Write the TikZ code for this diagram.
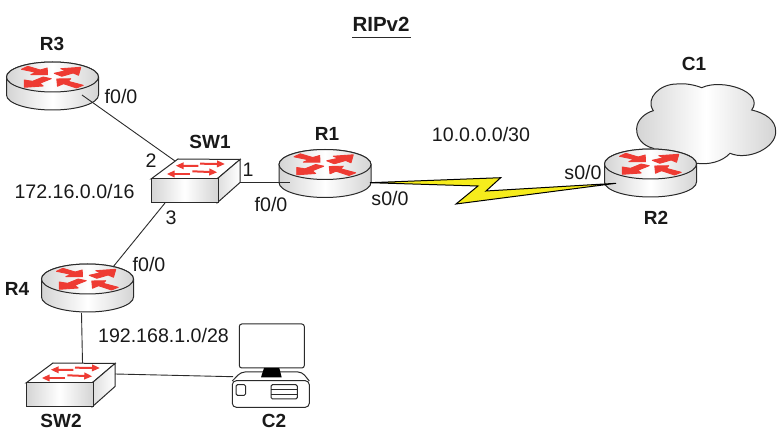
\documentclass[tikz,border=0pt]{standalone}
\usepackage{fontspec}
\setmainfont{Liberation Sans}
\usetikzlibrary{arrows.meta}
\definecolor{netred}{HTML}{EE3B33}
\definecolor{boltyellow}{HTML}{F6EC1C}
\definecolor{edgegray}{HTML}{2A2A2A}
\definecolor{shadegray}{HTML}{D4D4D4}
\tikzset{
  lbl/.style={inner sep=0pt,font=\fontsize{19.6}{20}\selectfont,text=black!90},
  blbl/.style={inner sep=0pt,font=\fontsize{19}{20}\selectfont\bfseries,text=black!90},
  port/.style={inner sep=0pt,minimum size=0pt,outer sep=0pt},
  hull/.style={inner sep=0pt,outer sep=0pt},
  outline/.style={draw=edgegray,line width=1pt},
  link/.style={draw=edgegray,line width=0.9pt},
  metal/.style={left color=shadegray,right color=shadegray,middle color=white},
  redflow/.style={fill=netred,draw=netred,line width=0.9pt,line join=round},
  swflow/.style={draw=netred,line width=2pt,-{Triangle[length=8pt,width=6.5pt]}},
}
\newcommand{\routerdevice}[3]{%
  \node[hull,minimum width=92pt,minimum height=48pt] (#1) at (#2,#3+9) {};
  \begin{scope}[shift={(#2,#3)}]
    \path[outline,metal] (-46,0) -- (-46,18) arc[start angle=180,end angle=0,x radius=46,y radius=15] -- (46,0) arc[start angle=0,end angle=-180,x radius=46,y radius=15] -- cycle;
    \path[outline,metal] (0,0) ellipse [x radius=46,y radius=15];
    \path[redflow] (-31,-7.7) -- (-24.7,-10.7) -- (-12.3,-7) -- (-5.3,-9) -- (-5,-2.3) -- (-21.7,-2.3) -- (-16.7,-4.7) -- cycle;
    \path[redflow] (1.7,-3.7) -- (13.3,-6.3) -- (8.3,-8.3) -- (28.3,-9.7) -- (26,-1.7) -- (20.7,-4) -- (9.3,-0.7) -- cycle;
    \path[redflow] (-28.3,3) -- (-20,4.3) -- (-9.3,0) -- (-1.3,1.7) -- (-12.7,6.3) -- (-9.3,9) -- (-28.3,10.3) -- cycle;
    \path[redflow] (4.3,2) -- (18.3,1.7) -- (15.7,4.3) -- (30.7,8.3) -- (24,11) -- (11,6.7) -- (5,9.3) -- cycle;
  \end{scope}}
\newcommand{\switchdevice}[3]{%
  \node[hull,minimum width=90pt,minimum height=44pt] (#1) at (#2+44,#3+2) {};
  \begin{scope}[shift={(#2,#3)}]
    \path[outline,fill=white] (0,0) -- (27,-20) -- (89,-19.5) -- (66,0) -- cycle;
    \path[outline,left color=shadegray!80,right color=white] (66,0) -- (89,-19.5) -- (89,3.5) -- (66,24) -- cycle;
    \path[outline,metal] (0,0) rectangle (67,24);
    \draw[swflow] (47.3,-13) -- (24.7,-13.3);
    \draw[swflow] (49,-15.3) -- (74,-15);
    \draw[swflow] (39,-5) -- (15.7,-5);
    \draw[swflow] (41.3,-7.7) -- (66.3,-6.7);
  \end{scope}}
\begin{document}
\begin{tikzpicture}[x=1pt,y=-1pt]
\useasboundingbox (0,0) rectangle (780,438);
% cloud
\path[outline,metal] (701.7,87.7) .. controls (722,78) and (765,92) .. (751.7,110)
  .. controls (765,113) and (776,120) .. (775.7,131.7)
  .. controls (776,148) and (748,161) .. (730,153.3)
  .. controls (722,162) and (708,165) .. (696.7,163.3)
  .. controls (680,163) and (660,160) .. (653.3,148.3)
  .. controls (643,146) and (636,138) .. (636.7,128.3)
  .. controls (637,120) and (645,113) .. (653.3,110.7)
  .. controls (645,98) and (660,84) .. (676.7,84)
  .. controls (685,83) and (695,85) .. cycle;
\node[hull,minimum width=140pt,minimum height=80pt] (C1) at (706,124) {};
% devices
\routerdevice{R3}{52.5}{77}
\routerdevice{R1}{325}{164.5}
\routerdevice{R2}{650.5}{164}
\routerdevice{R4}{87.5}{279}
\switchdevice{SW1}{151}{179}
\switchdevice{SW2}{26}{383}
% computer
\node[hull,minimum width=78pt,minimum height=84pt] (C2) at (271,366) {};
\path[outline,fill=white,rounded corners=2.5pt] (239.3,324) rectangle (304.3,368);
\path[outline,rounded corners=4pt,fill=white] (232.3,381) -- (241,372) -- (302,372) -- (309.3,381);
\path[outline,fill=white,rounded corners=4pt] (232.3,380.7) rectangle (309.3,407.3);
\fill[black] (264,368) -- (279.3,368) -- (281.7,377.3) -- (261,377.3) -- cycle;
\path[outline,fill=white,rounded corners=1.5pt] (236,384.7) rectangle (245.7,395.3);
\path[outline,fill=white,rounded corners=1.5pt] (271,384.7) rectangle (297.3,399);
\draw[outline] (271,389.7) -- (297.3,389.7) (271,394.3) -- (297.3,394.3);
% bolt
\path[fill=boltyellow,draw=black,line width=1pt,line join=miter] (370,182.7) -- (500.7,177.7) -- (486,191) -- (616,183.3) -- (456,204) -- (478,186) -- cycle;
% ports
\node[port] (pR3) at (82,95) {};
\node[port] (pSWa) at (175,161) {};
\node[port] (pSWb) at (240,182) {};
\node[port] (pR1a) at (290,182) {};
\node[port] (pSWc) at (165,203) {};
\node[port] (pR4a) at (113,267) {};
\node[port] (pR4b) at (81.5,313) {};
\node[port] (pSW2a) at (82.5,363) {};
\node[port] (pSW2b) at (115,374) {};
\node[port] (pC2) at (233,376.7) {};
\draw[link] (pR3) -- (pSWa);
\draw[link] (pSWb) -- (pR1a);
\draw[link] (pSWc) -- (pR4a);
\draw[link] (pR4b) -- (pSW2a);
\draw[link] (pSW2b) -- (pC2);
% labels
\node[blbl,font=\fontsize{20.5}{20}\selectfont\bfseries] (title) at (381,24) {RIPv2};
\node[port] (ula) at (352,37) {};
\node[port] (ulb) at (411,37) {};
\draw[link] (ula) -- (ulb);
\node[blbl] (tR3) at (52,44) {R3};
\node[blbl] (tSW1) at (210,142) {SW1};
\node[blbl] (tR1) at (327,134) {R1};
\node[blbl] (tC1) at (694,64) {C1};
\node[blbl] (tR2) at (656,218) {R2};
\node[blbl] (tR4) at (17,289) {R4};
\node[blbl] (tSW2) at (61,421) {SW2};
\node[blbl] (tC2) at (274,421) {C2};
\node[lbl] (a1) at (121,96) {f0/0};
\node[lbl] (a2) at (151,161) {2};
\node[lbl] (a3) at (248,170) {1};
\node[lbl] (a4) at (74.5,191) {172.16.0.0/16};
\node[lbl] (a5) at (171,218) {3};
\node[lbl] (a6) at (271,204) {f0/0};
\node[lbl] (a7) at (390,198) {s0/0};
\node[lbl] (a8) at (481,134) {10.0.0.0/30};
\node[lbl] (a9) at (583,172) {s0/0};
\node[lbl] (a10) at (149,264) {f0/0};
\node[lbl] (a11) at (163.5,335) {192.168.1.0/28};
\end{tikzpicture}
\end{document}
